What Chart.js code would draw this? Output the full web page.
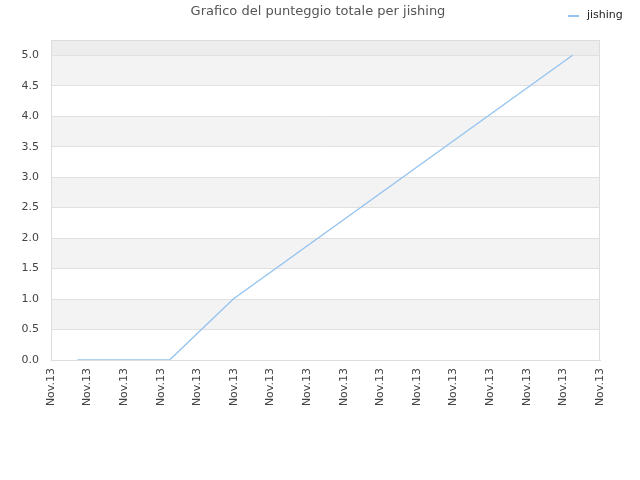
<!DOCTYPE html>
<html>
<head>
<meta charset="utf-8">
<script src="https://cdn.jsdelivr.net/npm/chart.js@4"></script>
<style>
  html, body { margin: 0; padding: 0; background: #fff; }
  #wrap { width: 640px; height: 480px; }
</style>
</head>
<body>
<div id="wrap"><canvas id="chartPunteggio" width="640" height="480"></canvas></div>
<script>
// dati
const chartTitle = 'Grafico del punteggio totale per jishing';
const seriesLabel = 'jishing';
const tickLabels = ['Nov.13', 'Nov.13', 'Nov.13', 'Nov.13', 'Nov.13', 'Nov.13', 'Nov.13', 'Nov.13',
                    'Nov.13', 'Nov.13', 'Nov.13', 'Nov.13', 'Nov.13', 'Nov.13', 'Nov.13', 'Nov.13'];
const timePos = [0.72, 3.24, 4.98, 14.25];
const scores = [0, 0, 1.0, 5.0];

const lineColor = '#96c4f0';
const FONT = 'DejaVu Sans';

// sfondo a bande alternate nell'area del grafico
const bandsPlugin = {
    id: 'bands',
    beforeDraw(chart) {
        const { ctx, chartArea, scales } = chart;
        const y = scales.y;
        ctx.save();
        for (let v = 0; v < 5.25; v += 0.5) {
            const top = y.getPixelForValue(Math.min(v + 0.5, 5.25));
            const bot = y.getPixelForValue(v);
            const idx = Math.round(v / 0.5);
            if (v >= 5) ctx.fillStyle = '#ededed';
            else ctx.fillStyle = idx % 2 === 1 ? '#f3f3f3' : '#ffffff';
            ctx.fillRect(chartArea.left, top, chartArea.right - chartArea.left, bot - top);
        }
        ctx.strokeStyle = '#dddddd';
        ctx.lineWidth = 1;
        ctx.strokeRect(chartArea.left + 0.5, chartArea.top + 0.5,
            chartArea.right - chartArea.left - 1, chartArea.bottom - chartArea.top);
        ctx.restore();
    }
};

// titolo e legenda disegnati a mano per tenerli sulla stessa riga
const headerPlugin = {
    id: 'header',
    afterDraw(chart) {
        const { ctx } = chart;
        ctx.save();
        ctx.font = '13px "' + FONT + '"';
        ctx.fillStyle = '#555555';
        ctx.textAlign = 'center';
        ctx.textBaseline = 'middle';
        ctx.fillText(chartTitle, 318, 12);

        ctx.strokeStyle = lineColor;
        ctx.lineWidth = 2;
        ctx.beginPath();
        ctx.moveTo(568, 16);
        ctx.lineTo(579, 16);
        ctx.stroke();
        ctx.font = '11px "' + FONT + '"';
        ctx.fillStyle = '#222222';
        ctx.textAlign = 'left';
        ctx.fillText(seriesLabel, 587, 15);
        ctx.restore();
    }
};

const points = timePos.map((t, i) => ({ x: t, y: scores[i] }));

new Chart(document.getElementById('chartPunteggio'), {
    type: 'line',
    data: {
        datasets: [{
            label: seriesLabel,
            data: points,
            borderColor: lineColor,
            borderWidth: 1.4,
            pointRadius: 0,
            tension: 0,
            fill: false
        }]
    },
    options: {
        responsive: false,
        animation: false,
        layout: { padding: { top: 40, right: 40, left: 0, bottom: 0 } },
        plugins: {
            legend: { display: false },
            title: { display: false },
            tooltip: { enabled: false }
        },
        scales: {
            x: {
                type: 'linear',
                min: 0,
                max: tickLabels.length - 1,
                afterBuildTicks: (scale) => {
                    scale.ticks = tickLabels.map((_, i) => ({ value: i }));
                },
                afterFit: (scale) => { scale.height = 120; },
                grid: { display: false, drawTicks: false },
                border: { display: true, color: '#dddddd' },
                ticks: {
                    autoSkip: false,
                    minRotation: 90,
                    maxRotation: 90,
                    padding: 8,
                    color: '#444444',
                    font: { family: FONT, size: 11 },
                    callback: (v, i) => tickLabels[i]
                }
            },
            y: {
                min: 0,
                max: 5.25,
                afterBuildTicks: (scale) => {
                    const t = [];
                    for (let v = 0; v <= 5.0001; v += 0.5) t.push({ value: v });
                    scale.ticks = t;
                },
                afterFit: (scale) => { scale.width = 51; },
                grid: { color: '#e0e0e0', drawTicks: false },
                border: { display: false },
                ticks: {
                    padding: 12,
                    color: '#444444',
                    font: { family: FONT, size: 11 },
                    callback: (v) => Number(v).toFixed(1)
                }
            }
        }
    },
    plugins: [bandsPlugin, headerPlugin]
});
</script>
</body>
</html>
